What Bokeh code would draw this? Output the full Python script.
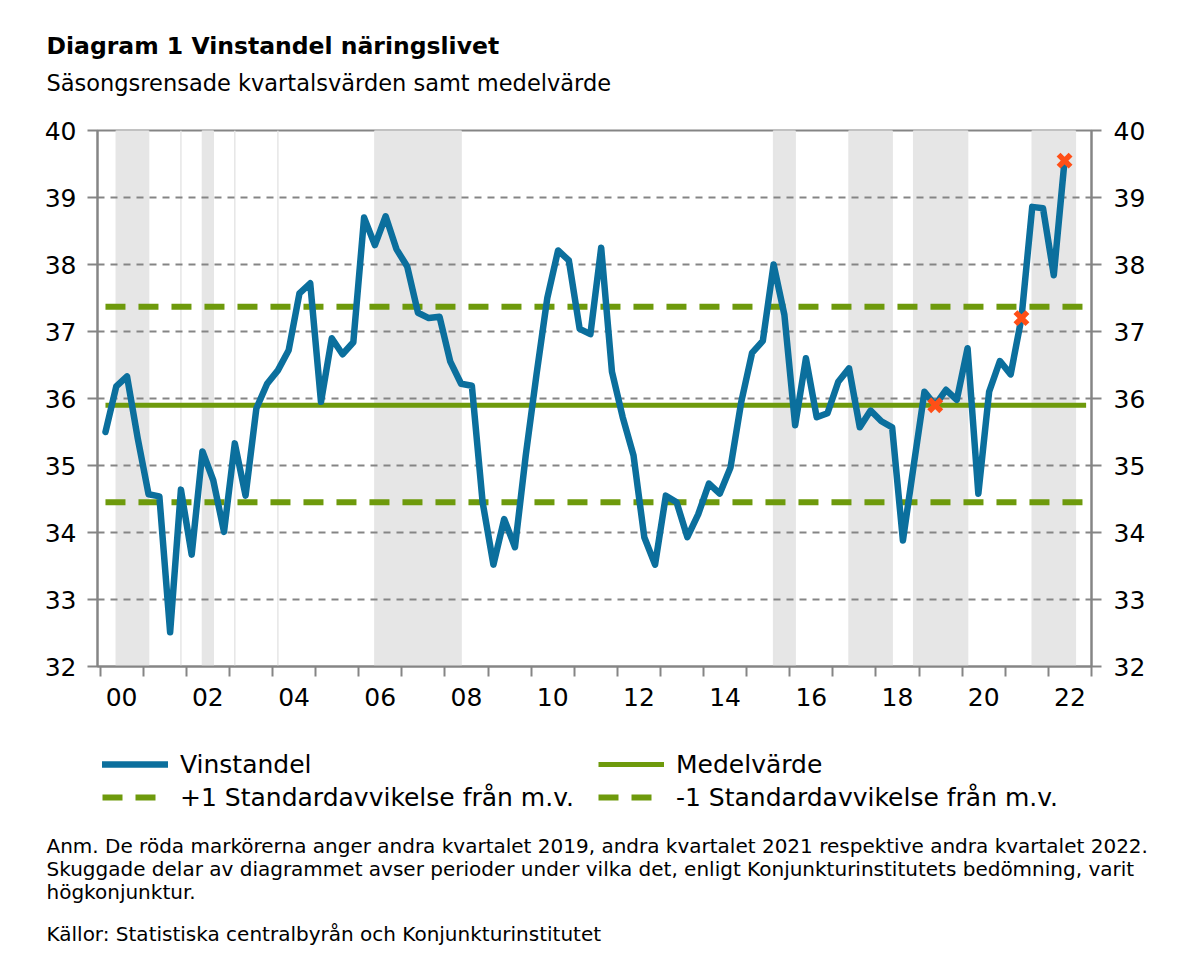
from bokeh.plotting import figure
from bokeh.layouts import column
from bokeh.models import (Range1d, FixedTicker, LinearAxis, Label, Legend,
                          LegendItem, ColumnDataSource)
from bokeh.embed import file_html
from bokeh.resources import INLINE

# ---------------------------------------------------------------- data
quarters = [f"{y}Q{q}" for y in range(2000, 2023) for q in range(1, 5)][:90]

vinstandel = [
    35.50, 36.18, 36.33, 35.40, 34.57, 34.54, 32.51, 34.64, 33.67, 35.21,
    34.78, 34.01, 35.33, 34.55, 35.85, 36.22, 36.42, 36.72, 37.57, 37.72,
    35.95, 36.90, 36.66, 36.84, 38.70, 38.29, 38.72, 38.23, 37.97, 37.28,
    37.20, 37.22, 36.55, 36.22, 36.19, 34.45, 33.52, 34.20, 33.78, 35.15,
    36.36, 37.50, 38.21, 38.06, 37.04, 36.96, 38.25, 36.40, 35.72, 35.15,
    33.93, 33.52, 34.55, 34.45, 33.93, 34.27, 34.73, 34.58, 34.97, 35.95,
    36.68, 36.86, 38.00, 37.25, 35.60, 36.60, 35.72, 35.78, 36.25, 36.45,
    35.57, 35.82, 35.66, 35.57, 33.88, 35.00, 36.10, 35.90, 36.13, 35.98,
    36.75, 34.58, 36.10, 36.56, 36.36, 37.20, 38.86, 38.84, 37.84, 39.55,
]

medelvarde = 35.90
plus_1sd = 37.37
minus_1sd = 34.45
ref_span = ["2000Q1", "2022Q4"]

marked_quarters = ["2019Q2", "2021Q2", "2022Q2"]

# periods of högkonjunktur (first and last quarter)
boom_start = ["2000Q2", "2001Q4", "2002Q2", "2003Q1", "2004Q1",
              "2006Q2", "2015Q3", "2017Q2", "2018Q4", "2021Q3"]
boom_end = ["2001Q1", "2001Q4", "2002Q3", "2003Q1", "2004Q1",
            "2008Q2", "2016Q1", "2018Q2", "2020Q1", "2022Q3"]

y_ticks = [32, 33, 34, 35, 36, 37, 38, 39, 40]
year_labels = ["00", "02", "04", "06", "08", "10", "12", "14", "16", "18", "20", "22"]
years = list(range(2000, 2024))

title = "Diagram 1 Vinstandel näringslivet"
subtitle = "Säsongsrensade kvartalsvärden samt medelvärde"
notes = [
    "Anm. De röda markörerna anger andra kvartalet 2019, andra kvartalet 2021 respektive andra kvartalet 2022.",
    "Skuggade delar av diagrammet avser perioder under vilka det, enligt Konjunkturinstitutets bedömning, varit",
    "högkonjunktur.",
]
source_note = "Källor: Statistiska centralbyrån och Konjunkturinstitutet"

# ---------------------------------------------------------------- helpers
def qpos(label):
    y, q = label.split("Q")
    return int(y) + (int(q) - 0.5) / 4.0


FONT = "DejaVu Sans"
BLUE = "#0b6f9d"
GREEN = "#6e9a0c"
RED = "#ff4f17"
GRID = "#858585"
SHADE = "#e6e6e6"
W = 1200
TOP_H, MAIN_H, BOTTOM_H = 110, 620, 232
NAN = float("nan")

xs = [qpos(q) for q in quarters]
lookup = dict(zip(quarters, vinstandel))

BLUE_STYLE = dict(line_color=BLUE, line_width=6.5, line_join="round", line_cap="round")
MEAN_STYLE = dict(line_color=GREEN, line_width=5)
SD_STYLE = dict(line_color=GREEN, line_width=6, line_dash="20 13")


def text_panel(height, top_px):
    """A blank canvas whose data coordinates equal page pixels (y downwards)."""
    f = figure(width=W, height=height, x_range=Range1d(0, W),
               y_range=Range1d(top_px + height, top_px),
               output_backend="svg", toolbar_location=None,
               x_axis_location=None, y_axis_location=None,
               min_border=0, min_border_left=0, min_border_right=0,
               min_border_top=0, min_border_bottom=0, frame_align=False)
    f.outline_line_color = None
    f.grid.visible = False
    f.background_fill_color = "white"
    f.border_fill_color = "white"
    return f


def add_text(f, txt, y, size, bold=False):
    f.add_layout(Label(x=46, y=y, text=txt, text_font=FONT, text_font_size=size,
                       text_font_style="bold" if bold else "normal",
                       text_baseline="middle", text_color="black"))


# ---------------------------------------------------------------- heading
head = text_panel(TOP_H, 0)
add_text(head, title, 45, "23.5px", bold=True)
add_text(head, subtitle, 82, "22.5px")

# ---------------------------------------------------------------- chart
p = figure(width=W, height=MAIN_H,
           x_range=Range1d(1999.94, 2023.0), y_range=Range1d(y_ticks[0], y_ticks[-1]),
           output_backend="svg", toolbar_location=None,
           min_border_left=97, min_border_right=109,
           min_border_top=130 - TOP_H, min_border_bottom=64)
p.background_fill_color = "white"
p.border_fill_color = "white"
p.outline_line_color = GRID
p.outline_line_width = 2

# shaded högkonjunktur periods
shade_src = ColumnDataSource(dict(
    left=[qpos(s) for s in boom_start],
    right=[qpos(e) for e in boom_end],
    bottom=[y_ticks[0]] * len(boom_start),
    top=[y_ticks[-1]] * len(boom_start),
))
p.quad(left="left", right="right", bottom="bottom", top="top", source=shade_src,
       fill_color=SHADE, line_color=SHADE, line_width=1.5, level="image")

# reference lines: mean and +/- one standard deviation
ref_x = [qpos(q) for q in ref_span]
p.line(ref_x, [medelvarde] * 2, **MEAN_STYLE)
p.line(ref_x, [plus_1sd] * 2, **SD_STYLE)
p.line(ref_x, [minus_1sd] * 2, **SD_STYLE)

# profit share series
p.line(xs, vinstandel, **BLUE_STYLE)

# highlighted quarters
p.scatter([qpos(q) for q in marked_quarters], [lookup[q] for q in marked_quarters],
          marker="x", size=17, line_color=RED, line_width=5.5)

# axes
y_ticker = FixedTicker(ticks=y_ticks)


def style_y(ax, standoff):
    ax.ticker = y_ticker
    ax.axis_line_color = GRID
    ax.axis_line_width = 2
    ax.major_tick_line_color = GRID
    ax.major_tick_line_width = 2
    ax.major_tick_out = 10
    ax.major_tick_in = 0
    ax.minor_tick_out = 0
    ax.minor_tick_in = 0
    ax.major_label_standoff = standoff
    ax.major_label_text_font = FONT
    ax.major_label_text_font_size = "25px"
    ax.major_label_text_color = "black"


style_y(p.yaxis[0], 11)
right_axis = LinearAxis()
style_y(right_axis, 12)
p.add_layout(right_axis, "right")

label_pos = [int("20" + s) + 0.5 for s in year_labels]
xa = p.xaxis[0]
xa.ticker = FixedTicker(ticks=label_pos, minor_ticks=years)
xa.major_label_overrides = {pos: s for pos, s in zip(label_pos, year_labels)}
xa.axis_line_color = GRID
xa.axis_line_width = 2
xa.major_tick_out = 0
xa.major_tick_in = 0
xa.minor_tick_out = 10
xa.minor_tick_in = 0
xa.minor_tick_line_color = GRID
xa.minor_tick_line_width = 2
xa.major_label_standoff = 11
xa.major_label_text_font = FONT
xa.major_label_text_font_size = "25px"
xa.major_label_text_color = "black"

p.xgrid.visible = False
p.ygrid.ticker = y_ticker
p.ygrid.grid_line_color = GRID
p.ygrid.grid_line_width = 2
p.ygrid.grid_line_dash = "7 6"

# ---------------------------------------------------------------- legend and notes
foot_top = TOP_H + MAIN_H
foot = text_panel(BOTTOM_H, foot_top)

# legend swatches take their look from these style-only renderers (nothing drawn)
k_main = foot.line([NAN], [NAN], **BLUE_STYLE)
k_mean = foot.line([NAN], [NAN], **MEAN_STYLE)
k_plus = foot.line([NAN], [NAN], **SD_STYLE)
k_minus = foot.line([NAN], [NAN], **SD_STYLE)


def make_legend(items, x):
    return Legend(items=items, location=(x, BOTTOM_H - (812 - foot_top)),
                  orientation="vertical",
                  glyph_width=66, glyph_height=30, label_height=30,
                  label_standoff=12, spacing=3, padding=0, margin=0,
                  border_line_alpha=0, background_fill_alpha=0,
                  label_text_font=FONT, label_text_font_size="25px",
                  label_text_color="black")


foot.add_layout(make_legend([
    LegendItem(label="Vinstandel", renderers=[k_main]),
    LegendItem(label="+1 Standardavvikelse från m.v.", renderers=[k_plus]),
], 102))
foot.add_layout(make_legend([
    LegendItem(label="Medelvärde", renderers=[k_mean]),
    LegendItem(label="-1 Standardavvikelse från m.v.", renderers=[k_minus]),
], 598))

for k, line in enumerate(notes):
    add_text(foot, line, 845 + 23 * k, "20px")
add_text(foot, source_note, 933, "20px")

page = column(head, p, foot, spacing=0)
open("out.html", "w").write(file_html(page, INLINE, "Vinstandel näringslivet"))
